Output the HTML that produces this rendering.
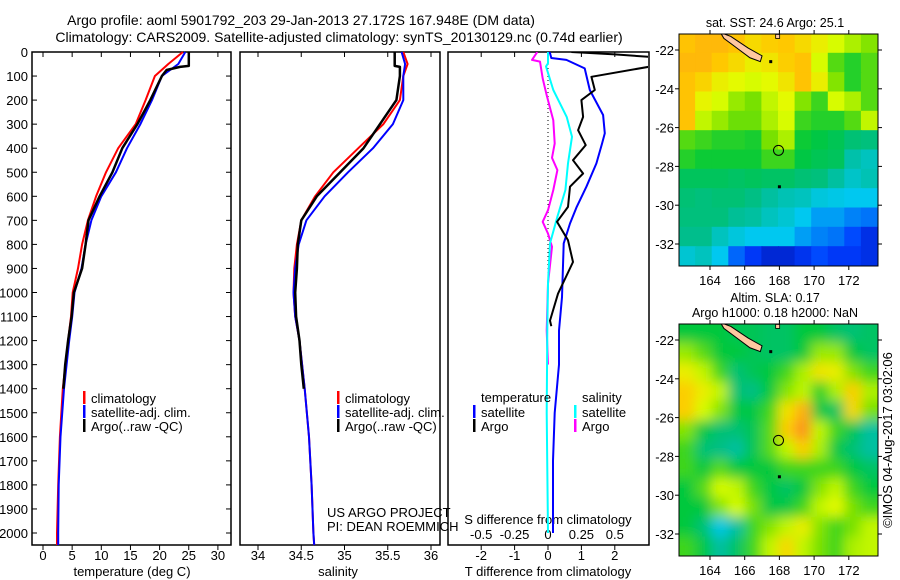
<!DOCTYPE html>
<html><head><meta charset="utf-8"><title>Argo profile</title>
<style>
html,body{margin:0;padding:0;background:#fff;}
svg{display:block;font-family:"Liberation Sans",sans-serif;}
text{fill:#000;}
</style></head>
<body>
<svg id="fig" width="900" height="580" viewBox="0 0 900 580" xmlns="http://www.w3.org/2000/svg">
<defs>
<filter id="blur" filterUnits="userSpaceOnUse" x="640" y="280" width="260" height="300"><feGaussianBlur stdDeviation="6"/></filter>
</defs>
<text x="301" y="25" font-size="14" text-anchor="middle">Argo profile: aoml 5901792_203 29-Jan-2013 27.172S 167.948E (DM data)</text>
<text x="339" y="42" font-size="14" text-anchor="middle">Climatology: CARS2009. Satellite-adjusted climatology: synTS_20130129.nc (0.74d earlier)</text>
<g id="g1"></g>
<g id="g2"></g>
<g id="g3"></g>
<g id="m1"></g>
<g id="m2"></g>
<text transform="translate(892,440) rotate(-90)" font-size="13" text-anchor="middle">©IMOS 04-Aug-2017 03:02:06</text>
</svg>
<script>
// ---- data ----
const depthTicks=[0,100,200,300,400,500,600,700,800,900,1000,1100,1200,1300,1400,1500,1600,1700,1800,1900,2000];
const dClim=[0,50,100,200,300,400,500,600,700,800,900,1000,1100,1200,1400,1600,1800,2000,2050];
const tClim=[24,21.5,19.2,17.6,15.9,12.9,10.8,9.1,7.7,6.7,6.0,5.1,4.8,4.3,3.4,2.9,2.6,2.4,2.4];
const tSat=[24.4,23.2,20.4,18.7,16.7,14.4,12.5,10.0,8.3,7.3,6.6,5.4,5.0,4.5,3.6,3.0,2.7,2.6,2.6];
const dArgo=[0,58,62,75,100,200,300,400,500,600,700,800,900,1000,1100,1200,1300,1400];
const tArgo=[25,25,23.5,21.2,20.4,18.4,16.2,13.6,11.9,9.7,7.8,7.3,6.7,5.3,4.9,4.3,3.8,3.5];
const sClim=[35.68,35.73,35.68,35.64,35.45,35.16,34.87,34.66,34.5,34.45,34.42,34.41,34.43,34.48,34.54,34.59,34.62,34.64,34.65];
const sSat=[35.66,35.7,35.68,35.68,35.56,35.33,35.04,34.77,34.56,34.47,34.43,34.41,34.43,34.48,34.54,34.59,34.62,34.64,34.65];
const sArgo=[35.58,35.58,35.64,35.64,35.64,35.6,35.41,35.22,34.95,34.68,34.5,34.46,34.45,34.43,34.44,34.48,34.5,34.53];
const dDT=[0,10,25,50,62,103,158,200,270,325,387,450,505,560,644,706,783,873,1005,1117,1140];
const dtArgo=[0.7,2.0,3.5,3.5,3.0,1.3,1.4,1.0,1.05,0.9,1.13,0.75,1.05,0.66,0.6,0.27,0.6,0.75,0.3,0.06,0.1];
const dDTs=[0,25,33,68,158,262,338,380,463,560,644,713,796,1019,1158,1300,1500,1700,2000];
const dtSat=[0.05,0.1,0.55,1.1,1.25,1.65,1.7,1.62,1.45,1.15,0.86,0.66,0.47,0.42,0.33,0.33,0.2,0.15,0.15];
const dDSs=[0,47,60,158,270,352,463,574,685,796,963,1158,1500,2000];
const dsSat=[0,0,-0.015,0.04,0.14,0.18,0.15,0.13,0.07,0.015,0.0,-0.005,-0.01,0.0];
const dDSa=[0,33,40,110,180,284,380,440,491,574,658,706,755,810,963,1158,1300];
const dsArgo=[-0.08,-0.12,-0.06,-0.04,-0.01,0.04,0.05,0.03,0.07,0.04,0.0,-0.04,0.0,0.03,0.0,-0.01,0.0];
const tTicks=[0,5,10,15,20,25,30];
const sTicks=[34,34.5,35,35.5,36];
const dtTicks=[-2,-1,0,1,2];
const dsTicks=[-0.5,-0.25,0,0.25,0.5];
const sstGrid=[
[0.76,0.78,0.78,0.76,0.72,0.74,0.75,0.72,0.68,0.64,0.6,0.56],
[0.78,0.78,0.75,0.72,0.68,0.7,0.74,0.76,0.64,0.52,0.48,0.52],
[0.76,0.73,0.68,0.66,0.64,0.66,0.7,0.76,0.68,0.56,0.48,0.52],
[0.76,0.67,0.64,0.58,0.55,0.62,0.66,0.56,0.5,0.64,0.6,0.52],
[0.76,0.62,0.58,0.54,0.54,0.6,0.64,0.5,0.48,0.48,0.52,0.62],
[0.52,0.5,0.48,0.48,0.47,0.55,0.6,0.46,0.44,0.42,0.38,0.37],
[0.48,0.46,0.46,0.46,0.46,0.5,0.5,0.44,0.42,0.41,0.32,0.3],
[0.41,0.41,0.41,0.4,0.41,0.4,0.4,0.38,0.37,0.33,0.29,0.31],
[0.38,0.37,0.38,0.38,0.36,0.33,0.31,0.3,0.27,0.26,0.25,0.25],
[0.37,0.37,0.37,0.34,0.33,0.3,0.28,0.25,0.22,0.22,0.2,0.19],
[0.35,0.35,0.3,0.27,0.25,0.25,0.25,0.22,0.2,0.19,0.16,0.12],
[0.28,0.3,0.25,0.18,0.14,0.1,0.1,0.13,0.16,0.14,0.14,0.12]];
const slaGrid=[
[0.45,0.45,0.45,0.42,0.42,0.4,0.4,0.45,0.45,0.4,0.38,0.4],
[0.58,0.52,0.45,0.45,0.42,0.4,0.4,0.45,0.58,0.58,0.45,0.4],
[0.68,0.62,0.5,0.38,0.42,0.45,0.5,0.6,0.7,0.68,0.56,0.5],
[0.74,0.68,0.62,0.38,0.36,0.45,0.56,0.62,0.48,0.6,0.74,0.6],
[0.74,0.64,0.56,0.44,0.44,0.5,0.7,0.8,0.44,0.4,0.72,0.55],
[0.56,0.44,0.38,0.38,0.42,0.52,0.74,0.86,0.62,0.5,0.42,0.33],
[0.5,0.38,0.36,0.33,0.42,0.52,0.62,0.74,0.6,0.44,0.38,0.33],
[0.5,0.45,0.52,0.45,0.45,0.45,0.5,0.5,0.5,0.5,0.45,0.4],
[0.45,0.52,0.64,0.62,0.5,0.44,0.4,0.45,0.56,0.62,0.5,0.45],
[0.45,0.45,0.56,0.64,0.55,0.44,0.44,0.5,0.62,0.66,0.55,0.5],
[0.45,0.38,0.26,0.33,0.5,0.56,0.62,0.68,0.56,0.5,0.55,0.62],
[0.5,0.44,0.33,0.4,0.5,0.62,0.72,0.62,0.55,0.5,0.6,0.62]];
const lonTicks=[164,166,168,170,172];
const latTicks=[-22,-24,-26,-28,-30,-32];
const argoLon=[167.948];
const argoLat=[-27.172];

// ---- helpers ----
const NS="http://www.w3.org/2000/svg";
function mk(parent,tag,attrs,txt){const e=document.createElementNS(NS,tag);for(const k in attrs)e.setAttribute(k,attrs[k]);if(txt!==undefined)e.textContent=txt;parent.appendChild(e);return e;}
const TOP=52,BOT=545;
const yD=d=>TOP+d*0.2405;
function frame(g,x0,x1,name){
  const r=mk(g,'rect',{x:x0,y:TOP,width:x1-x0,height:BOT-TOP,fill:'none',stroke:'#000','stroke-width':1.5});
  
  
}
function xAxis(g,ticks,fx,labelY,fmt){
  ticks.forEach(t=>{const x=fx(t);
    mk(g,'line',{x1:x,x2:x,y1:BOT,y2:BOT+5,stroke:'#000'});
    mk(g,'line',{x1:x,x2:x,y1:TOP,y2:TOP+5,stroke:'#000'});
    const l=mk(g,'text',{x:x,y:labelY,'font-size':13,'text-anchor':'middle'},fmt?fmt(t):String(t));
    
    
  });
}
function line(g,xs,ds,fx,color,w,name){
  const pts=xs.map((v,i)=>fx(v).toFixed(1)+','+yD(ds[i]).toFixed(1)).join(' ');
  const p=mk(g,'polyline',{points:pts,fill:'none',stroke:color,'stroke-width':w,'stroke-linejoin':'round'});
  
  
}
function legendRow(g,x,y,color,label,name){
  mk(g,'rect',{x:x,y:y-7,width:2.5,height:13,fill:color});
  const t=mk(g,'text',{x:x+8,y:y+5,'font-size':13},label);
  
  
}

// ---- panel 1 temperature ----
const g1=document.getElementById('g1');
const fT=t=>43+t*5.83;
frame(g1,32,231,'temperature-axes-frame');
depthTicks.forEach(d=>{const y=yD(d);
  mk(g1,'line',{x1:32,x2:37,y1:y,y2:y,stroke:'#000'});
  mk(g1,'line',{x1:226,x2:231,y1:y,y2:y,stroke:'#000'});
  const l=mk(g1,'text',{x:28,y:y+5,'font-size':13,'text-anchor':'end'},String(d));
  
  
});
xAxis(g1,tTicks,fT,560);
const xt1=mk(g1,'text',{x:132,y:576,'font-size':13,'text-anchor':'middle'},'temperature (deg C)');


line(g1,tClim,dClim,fT,'#ff0000',2,'temperature-climatology-line');
line(g1,tSat,dClim,fT,'#0000ff',2,'temperature-satellite-line');
line(g1,tArgo,dArgo,fT,'#000000',2.5,'temperature-argo-line');
legendRow(g1,83,398,'#ff0000','climatology','legend-climatology');
legendRow(g1,83,412,'#0000ff','satellite-adj. clim.','legend-satellite');
legendRow(g1,83,426,'#000000','Argo(..raw -QC)','legend-argo');

// ---- panel 2 salinity ----
const g2=document.getElementById('g2');
const fS=s=>258+(s-34)*86.5;
frame(g2,240,440,'salinity-axes-frame');
xAxis(g2,sTicks,fS,560);
const xt2=mk(g2,'text',{x:338,y:576,'font-size':13,'text-anchor':'middle'},'salinity');


line(g2,sClim,dClim,fS,'#ff0000',2,'salinity-climatology-line');
line(g2,sSat,dClim,fS,'#0000ff',2,'salinity-satellite-line');
line(g2,sArgo,dArgo,fS,'#000000',2.5,'salinity-argo-line');
legendRow(g2,337,398,'#ff0000','climatology','legend-climatology');
legendRow(g2,337,412,'#0000ff','satellite-adj. clim.','legend-satellite');
legendRow(g2,337,426,'#000000','Argo(..raw -QC)','legend-argo');
const c1=mk(g2,'text',{x:327,y:517,'font-size':13},'US ARGO PROJECT');


const c2=mk(g2,'text',{x:327,y:531,'font-size':13},'PI: DEAN ROEMMICH');



// ---- panel 3 differences ----
const g3=document.getElementById('g3');
const fDT=t=>548+t*33.4;
const fDS=s=>548+s*133.6;
const clip=mk(document.getElementById('fig'),'clipPath',{id:'c3'});
mk(clip,'rect',{x:449,y:TOP,width:199,height:BOT-TOP});
frame(g3,448,649,'difference-axes-frame');
mk(g3,'line',{x1:548,x2:548,y1:TOP,y2:yD(1000),stroke:'#000','stroke-dasharray':'1,3'});
xAxis(g3,dtTicks,fDT,560);
dsTicks.forEach(s=>{const l=mk(g3,'text',{x:fDS(s),y:539,'font-size':13,'text-anchor':'middle'},String(s));
  
  });
const sd=mk(g3,'text',{x:548,y:524,'font-size':13,'text-anchor':'middle'},'S difference from climatology');


const td=mk(g3,'text',{x:548,y:576,'font-size':13,'text-anchor':'middle'},'T difference from climatology');


const gl=mk(g3,'g',{'clip-path':'url(#c3)'});
line(gl,dsArgo,dDSa,fDS,'#ff00ff',2,'s-diff-argo-line');
line(gl,dsSat,dDSs,fDS,'#00ffff',2,'s-diff-satellite-line');
line(gl,dtSat,dDTs,fDT,'#0000ff',2,'t-diff-satellite-line');
line(gl,dtArgo,dDT,fDT,'#000000',2,'t-diff-argo-line');
const lt=mk(g3,'text',{x:481,y:402,'font-size':13},'temperature');


const ls=mk(g3,'text',{x:582,y:402,'font-size':13},'salinity');


legendRow(g3,473,412,'#0000ff','satellite','legend-t-satellite');
legendRow(g3,473,426,'#000000','Argo','legend-t-argo');
legendRow(g3,574,412,'#00ffff','satellite','legend-s-satellite');
legendRow(g3,574,426,'#ff00ff','Argo','legend-s-argo');

// ---- maps ----
const stops=[[0,[0,0,128]],[0.15,[0,60,255]],[0.25,[0,200,240]],[0.35,[0,190,140]],[0.45,[0,200,60]],[0.55,[120,225,0]],[0.65,[225,255,0]],[0.75,[255,200,0]],[0.85,[255,150,30]],[1,[230,80,0]]];
function cmap(v){for(let i=1;i<stops.length;i++){if(v<=stops[i][0]){const a=stops[i-1],b=stops[i];const f=(v-a[0])/(b[0]-a[0]);
  return 'rgb('+a[1].map((c,k)=>Math.round(c+(b[1][k]-c)*f)).join(',')+')';}}return 'rgb(230,80,0)';}
function drawMap(id,top,grid,smooth,title){
  const g=document.getElementById(id);
  const L=679,R=878,B=top+232;
  const fx=lon=>710+(lon-164)*17.35;
  const fy=lat=>(top+16)+(-22-lat)*19.4;
  const cw=(R-L)/12,ch=(B-top)/12;
  const cp=mk(document.getElementById('fig'),'clipPath',{id:'cp'+id});
  mk(cp,'rect',{x:L,y:top,width:R-L,height:B-top});
  const cg=mk(g,'g',{'clip-path':'url(#cp'+id+')'});
  const ig=mk(cg,'g',smooth?{filter:'url(#blur)'}:{});
  for(let r=-1;r<=12;r++)for(let c=-1;c<=12;c++){
    if(r>=0&&r<12&&c>=0&&c<12)continue;
    const v=grid[Math.min(11,Math.max(0,r))][Math.min(11,Math.max(0,c))];
    mk(ig,'rect',{x:(L+c*cw-0.5).toFixed(1),y:(top+r*ch-0.5).toFixed(1),width:(cw+1).toFixed(1),height:(ch+1).toFixed(1),fill:cmap(v)});
  }
  grid.forEach((row,r)=>row.forEach((v,c)=>{
    const cell=mk(ig,'rect',{x:(L+c*cw-0.5).toFixed(1),y:(top+r*ch-0.5).toFixed(1),width:(cw+1).toFixed(1),height:(ch+1).toFixed(1),fill:cmap(v)});
    
    
  }));
  const isl=mk(cg,'polygon',{points:[[164.6,-21.1],[165.2,-21.3],[166.2,-21.9],[167.0,-22.3],[166.9,-22.6],[166.3,-22.4],[165.4,-21.8],[164.8,-21.4]].map(p=>fx(p[0])+','+fy(p[1])).join(' '),fill:'#ffc8a0',stroke:'#000','stroke-width':1});
  
  
  mk(cg,'rect',{x:fx(167.5)-1.5,y:fy(-22.6)-1.5,width:3,height:3,fill:'#000'});
  mk(cg,'rect',{x:fx(167.9)-2,y:fy(-21.3)-2,width:4,height:4,fill:'#ffc8a0',stroke:'#000','stroke-width':0.8});
  mk(cg,'rect',{x:fx(168)-1.5,y:fy(-29.05)-1.5,width:3,height:3,fill:'#000'});
  const m=mk(cg,'circle',{cx:fx(argoLon[0]),cy:fy(argoLat[0]),r:5,fill:'none',stroke:'#000','stroke-width':1});
  
  
  const f=mk(g,'rect',{x:L,y:top,width:R-L,height:B-top,fill:'none',stroke:'#000','stroke-width':1});
  
  
  lonTicks.forEach(lon=>{const x=fx(lon);
    mk(g,'line',{x1:x,x2:x,y1:top-4,y2:top,stroke:'#000'});
    mk(g,'line',{x1:x,x2:x,y1:B,y2:B+4,stroke:'#000'});
    const l=mk(g,'text',{x:x,y:B+19,'font-size':13,'text-anchor':'middle'},String(lon));
    
    });
  latTicks.forEach(lat=>{const y=fy(lat);
    mk(g,'line',{x1:L-4,x2:L,y1:y,y2:y,stroke:'#000'});
    mk(g,'line',{x1:R,x2:R+4,y1:y,y2:y,stroke:'#000'});
    const l=mk(g,'text',{x:L-5,y:y+5,'font-size':13,'text-anchor':'end'},String(lat));
    
    });
  title.forEach((t,i)=>{const l=mk(g,'text',{x:775,y:top-7-(title.length-1-i)*15,'font-size':12.5,'text-anchor':'middle'},t);
    
    });
}
drawMap('m1',34,sstGrid,false,['sat. SST: 24.6 Argo: 25.1']);
drawMap('m2',324,slaGrid,true,['Altim. SLA: 0.17','Argo h1000: 0.18 h2000: NaN']);
</script>
</body></html>
